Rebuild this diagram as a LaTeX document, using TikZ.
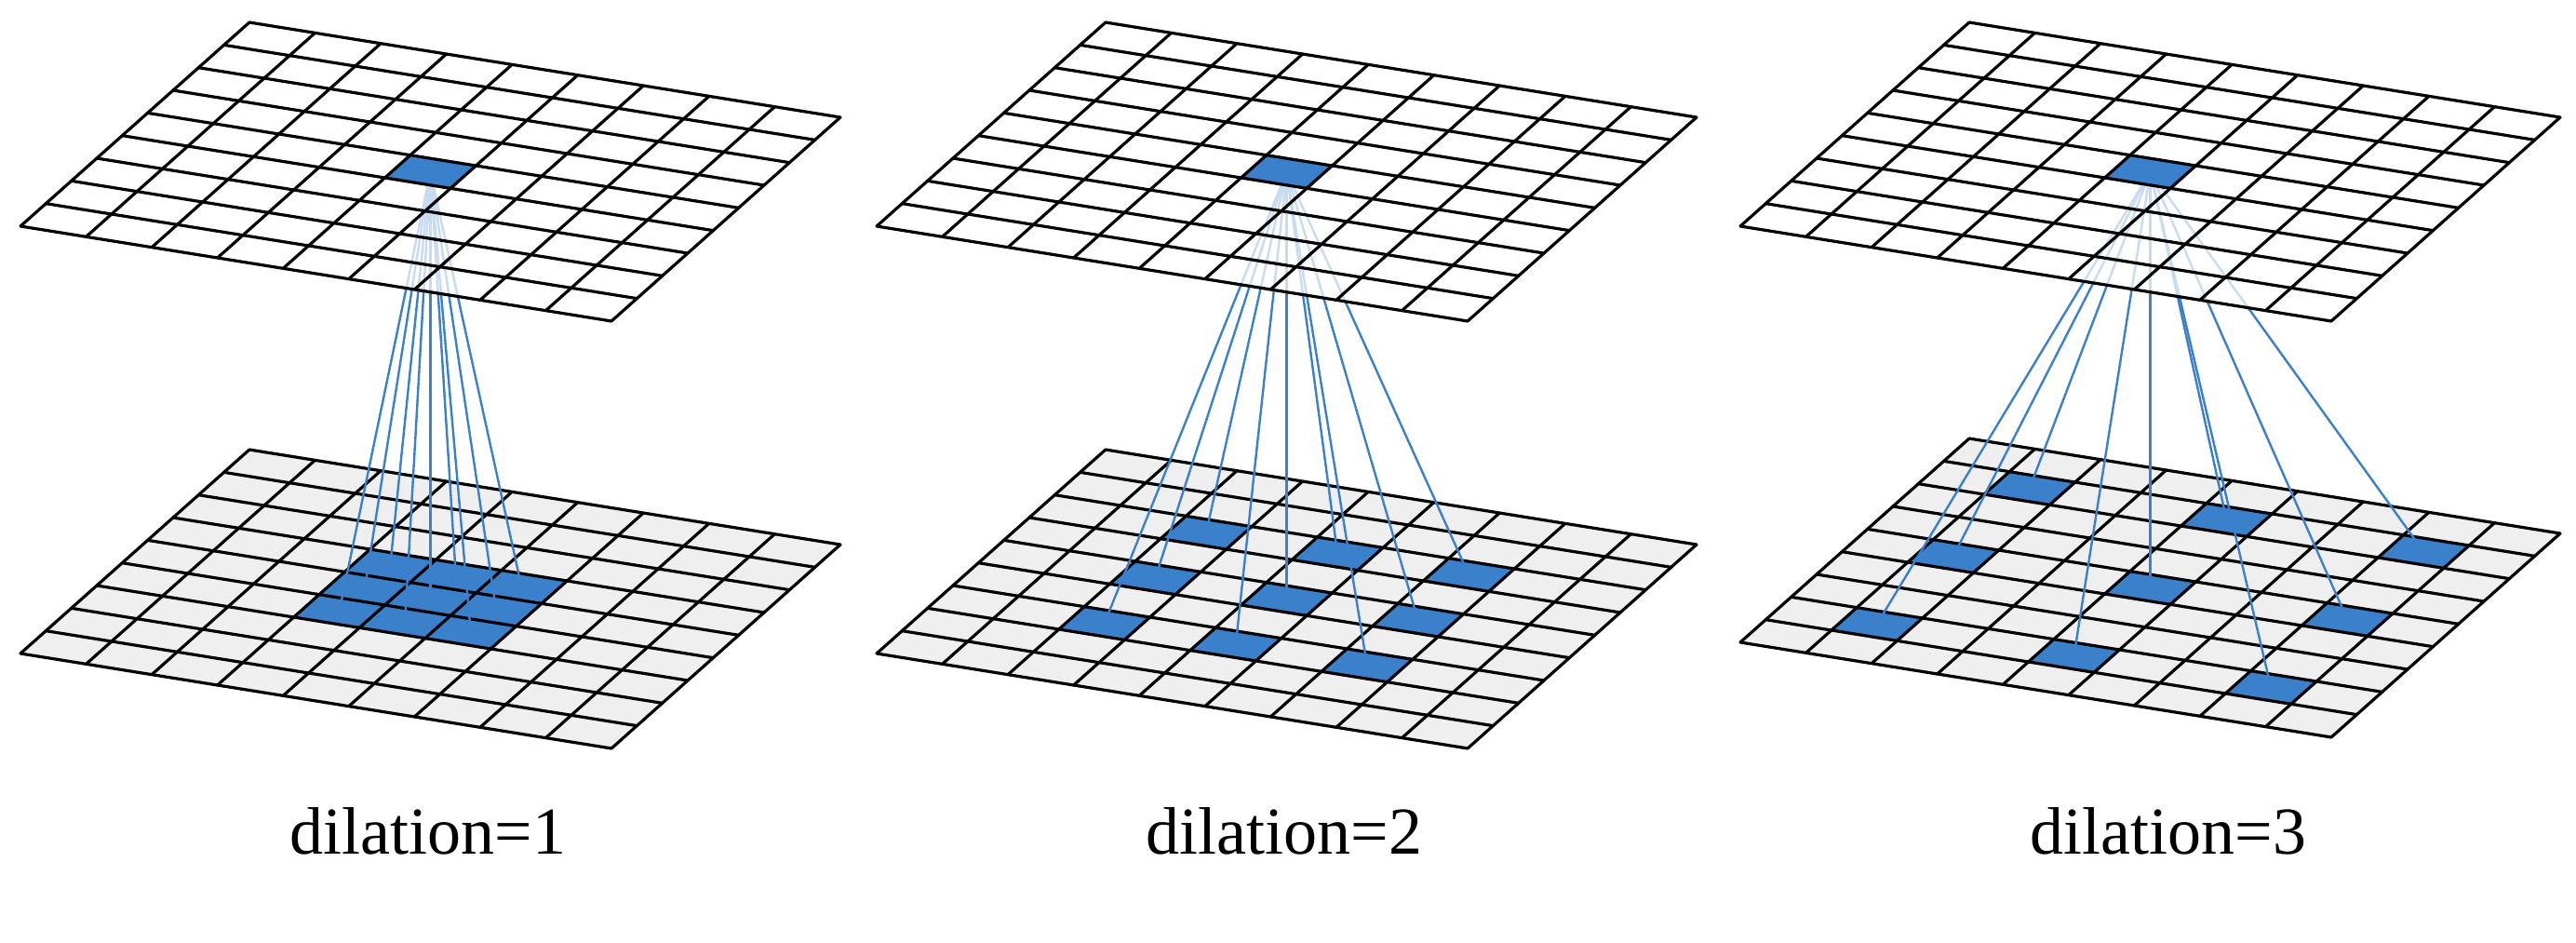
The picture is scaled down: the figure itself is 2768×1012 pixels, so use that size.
\documentclass[tikz,border=0pt]{standalone}
\usepackage{fontspec}
\setmainfont{Liberation Serif}
\definecolor{kblue}{RGB}{58,128,202}
\definecolor{kgray}{RGB}{239,239,239}
\tikzset{
  gridln/.style={line width=3.2pt, black, line cap=round},
  conn/.style={line width=2.4pt, kblue},
  bluecell/.style={fill=kblue},
  lbl/.style={anchor=base, font=\fontsize{72}{80}\selectfont}
}
\newcommand\gridlines{%
  \foreach \k in {0,...,9}{\draw[gridln] (\k,0) -- (\k,9); \draw[gridln] (0,\k) -- (9,\k);}}
\newcommand\cellat[2]{\fill[bluecell] (#1,#2) -- ++(1,0) -- ++(0,1) -- ++(-1,0) -- cycle;}
\newcommand\drawpanel[4]{%
  \begin{scope}[shift={(#1pt+22pt,-#3pt)}, x={(70.56pt,-11.33pt)}, y={(27.33pt,24.33pt)}]
    \fill[kgray] (0,0) -- (9,0) -- (9,9) -- (0,9) -- cycle;
    \foreach \a in {-1,0,1}{\foreach \b in {-1,0,1}{
      \pgfmathsetmacro\ci{4+#2*\a}\pgfmathsetmacro\cj{4+#2*\b}
      \cellat{\ci}{\cj}
      \coordinate (b#2-\a-\b) at ({4.5+#2*\a},{4.5+#2*\b});}}
    \gridlines
  \end{scope}
  \begin{scope}[shift={(#1pt+22pt,-243pt)}, x={(70.56pt,-11.33pt)}, y={(27.33pt,24.33pt)}]
    \coordinate (t#2) at (4.5,4.5);
  \end{scope}
  \foreach \a in {-1,0,1}{\foreach \b in {-1,0,1}{\draw[conn] (t#2) -- (b#2-\a-\b);}}
  \begin{scope}[shift={(#1pt+22pt,-243pt)}, x={(70.56pt,-11.33pt)}, y={(27.33pt,24.33pt)}]
    \fill[white, fill opacity=0.72] (0,0) -- (9,0) -- (9,9) -- (0,9) -- cycle;
    \cellat{4}{4}
    \gridlines
  \end{scope}
  \node[lbl] (lab#2) at (#4pt,-917pt) {dilation=#2};
}
\begin{document}
\begin{tikzpicture}
\useasboundingbox (0,0) rectangle (2768pt,-1012pt);
\drawpanel{0}{1}{702}{460}
\drawpanel{920}{2}{702}{1380}
\drawpanel{1848}{3}{690}{2330}
\end{tikzpicture}
\end{document}
